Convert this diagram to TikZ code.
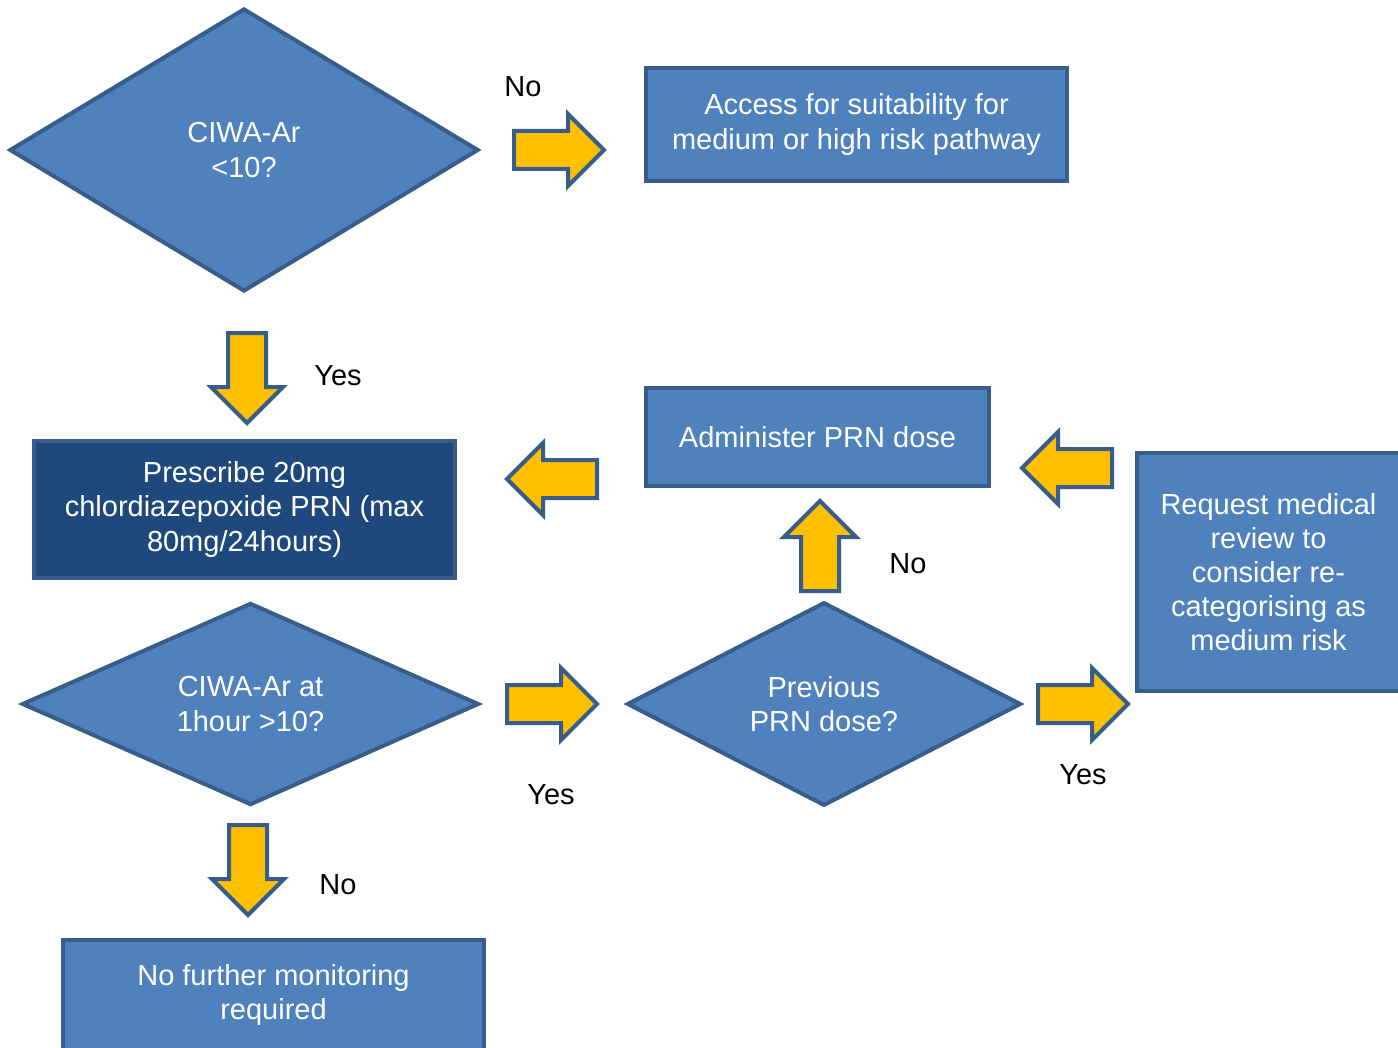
\documentclass[tikz,border=0pt]{standalone}
\usepackage{fontspec}
\setmainfont{Liberation Sans}
\usetikzlibrary{shapes.geometric}
\definecolor{boxblue}{HTML}{4F81BD}
\definecolor{edgeblue}{HTML}{385D8A}
\definecolor{darkblue}{HTML}{1F497D}
\definecolor{arrowgold}{HTML}{FFC000}
\tikzset{
  every node/.style={font=\fontsize{16.5}{19.4}\selectfont},
  procbox/.style={rectangle, draw=edgeblue, fill=boxblue, line width=0.08cm, text=white, align=center, inner sep=0pt},
  choice/.style={diamond, draw=edgeblue, fill=boxblue, line width=0.08cm, text=white, align=center, inner sep=0pt},
  answer/.style={text=black, inner sep=0pt},
  blockarrow/.pic={
    \draw[draw=edgeblue, fill=arrowgold, line width=0.08cm, line join=miter]
      (0,-19) -- (54,-19) -- (54,-36) -- (90,0) -- (54,36) -- (54,19) -- (0,19) -- cycle;
  }
}
\begin{document}
\begin{tikzpicture}[x=0.02cm, y=-0.02cm]
		\useasboundingbox (0,0) rectangle (1398,1047);
		\clip (0,0) rectangle (1398,1047);
		% top decision
		\node[choice, minimum width=469*0.02cm, minimum height=283*0.02cm] (ciwa) at (244,150) {CIWA-Ar\\<10?};
		\node[procbox, minimum width=421*0.02cm, minimum height=113*0.02cm] (access) at (856.5,124.5) {Access for suitability for\\medium or high risk pathway};
		\pic at (514,150) {blockarrow};
		\node[answer] (no1) at (523,87) {No};
		\pic[rotate=-90] at (247,333) {blockarrow};
		\node[answer] (yes1) at (338,376) {Yes};
		% prescribe and PRN loop
		\node[procbox, fill=darkblue, minimum width=421*0.02cm, minimum height=137*0.02cm] (prescribe) at (244.5,509.5) {Prescribe 20mg\\chlordiazepoxide PRN (max\\80mg/24hours)};
		\node[procbox, minimum width=343*0.02cm, minimum height=98*0.02cm] (administer) at (817.5,437) {Administer PRN dose};
		\node[procbox, minimum width=263*0.02cm, minimum height=238*0.02cm] (review) at (1268.5,572) {Request medical\\review to\\consider re-\\categorising as\\medium risk};
		\pic[rotate=180] at (597,479) {blockarrow};
		\pic[rotate=180] at (1112,468) {blockarrow};
		\pic[rotate=90] at (820,591) {blockarrow};
		\node[answer] (no2) at (908,564) {No};
		% second row of decisions
		\node[choice, minimum width=457*0.02cm, minimum height=197*0.02cm] (hour) at (250.5,704) {CIWA-Ar at\\1hour >10?};
		\node[choice, minimum width=394*0.02cm, minimum height=197*0.02cm] (previous) at (824,704) {Previous\\PRN dose?};
		\pic at (507,704) {blockarrow};
		\node[answer] (yes2) at (551,795) {Yes};
		\pic at (1038,704) {blockarrow};
		\node[answer] (yes3) at (1083,775) {Yes};
		\pic[rotate=-90] at (248,825) {blockarrow};
		\node[answer] (no3) at (338,885) {No};
		\node[procbox, minimum width=421*0.02cm, minimum height=110*0.02cm] (stop) at (273.5,995) {No further monitoring\\required};
	\end{tikzpicture}
\end{document}
